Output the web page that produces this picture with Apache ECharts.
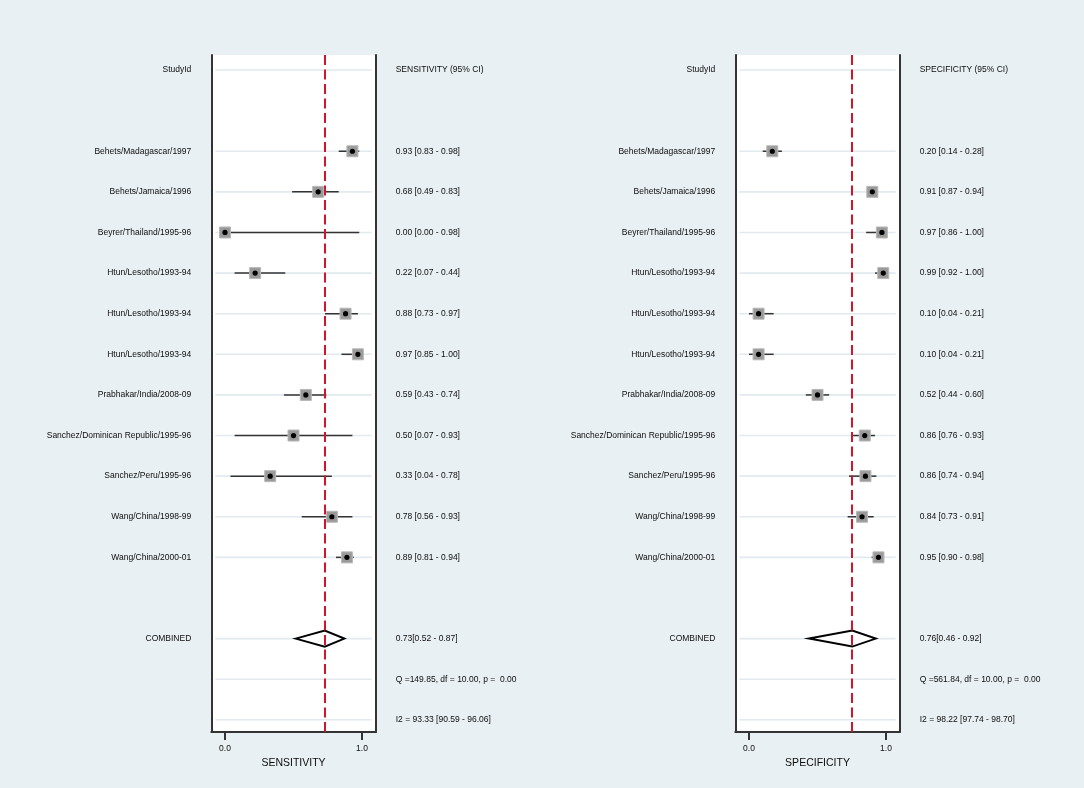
<!DOCTYPE html>
<html><head><meta charset="utf-8">
<script src="https://cdn.jsdelivr.net/npm/echarts@6/dist/echarts.min.js"></script>
<style>html,body{margin:0;padding:0;background:#e9f0f3}#c{width:1084px;height:788px}</style>
</head><body><div id="c"></div>
<script>
// ---------- DATA ----------
const studies = [
  "Behets/Madagascar/1997", "Behets/Jamaica/1996", "Beyrer/Thailand/1995-96",
  "Htun/Lesotho/1993-94", "Htun/Lesotho/1993-94", "Htun/Lesotho/1993-94",
  "Prabhakar/India/2008-09", "Sanchez/Dominican Republic/1995-96",
  "Sanchez/Peru/1995-96", "Wang/China/1998-99", "Wang/China/2000-01"
];
const studyHeader = "StudyId";
const combinedLabel = "COMBINED";

// Sensitivity (plotted estimate, lower, upper)
const sensEst = [0.93, 0.68, 0.00, 0.22, 0.88, 0.97, 0.59, 0.50, 0.33, 0.78, 0.89];
const sensLo  = [0.83, 0.49, 0.00, 0.07, 0.73, 0.85, 0.43, 0.07, 0.04, 0.56, 0.81];
const sensHi  = [0.98, 0.83, 0.98, 0.44, 0.97, 1.00, 0.74, 0.93, 0.78, 0.93, 0.94];
const sensText = [
  "0.93 [0.83 - 0.98]", "0.68 [0.49 - 0.83]", "0.00 [0.00 - 0.98]", "0.22 [0.07 - 0.44]",
  "0.88 [0.73 - 0.97]", "0.97 [0.85 - 1.00]", "0.59 [0.43 - 0.74]", "0.50 [0.07 - 0.93]",
  "0.33 [0.04 - 0.78]", "0.78 [0.56 - 0.93]", "0.89 [0.81 - 0.94]"
];
const sensSummary = [0.516, 0.871, 0.728]; // lower, upper, estimate
const sensHeader = "SENSITIVITY (95% CI)";
const sensSummaryText = "0.73[0.52 - 0.87]";
const sensQText = "Q =149.85, df = 10.00, p =  0.00";
const sensI2Text = "I2 = 93.33 [90.59 - 96.06]";
const sensAxisTitle = "SENSITIVITY";

// Specificity (plotted estimate, lower, upper)
const specEst = [0.17, 0.90, 0.97, 0.98, 0.07, 0.07, 0.50, 0.845, 0.85, 0.825, 0.945];
const specLo  = [0.10, 0.87, 0.855, 0.92, 0.00, 0.00, 0.415, 0.75, 0.73, 0.72, 0.895];
const specHi  = [0.24, 0.93, 1.00, 1.00, 0.18, 0.18, 0.585, 0.92, 0.93, 0.91, 0.98];
const specText = [
  "0.20 [0.14 - 0.28]", "0.91 [0.87 - 0.94]", "0.97 [0.86 - 1.00]", "0.99 [0.92 - 1.00]",
  "0.10 [0.04 - 0.21]", "0.10 [0.04 - 0.21]", "0.52 [0.44 - 0.60]", "0.86 [0.76 - 0.93]",
  "0.86 [0.74 - 0.94]", "0.84 [0.73 - 0.91]", "0.95 [0.90 - 0.98]"
];
const specSummary = [0.438, 0.925, 0.754];
const specHeader = "SPECIFICITY (95% CI)";
const specSummaryText = "0.76[0.46 - 0.92]";
const specQText = "Q =561.84, df = 10.00, p =  0.00";
const specI2Text = "I2 = 98.22 [97.74 - 98.70]";
const specAxisTitle = "SPECIFICITY";

const xTicks = [0, 1];

// ---------- LAYOUT ----------
const headerRow = 0, firstStudyRow = 2, combinedRow = 14, qRow = 15, i2Row = 16;
const studyRows = studies.map((_, i) => i + firstStudyRow);
const gridRows = [headerRow, ...studyRows, combinedRow, qRow, i2Row];
const TXT = '#0d0d0d';
const FONT = '"Liberation Sans", Arial, Helvetica, sans-serif';
const BOX = '#333';
const RED = '#d2152b';

function leftMap() {
  const m = {}; m[headerRow] = studyHeader;
  studies.forEach((s, i) => m[studyRows[i]] = s);
  m[combinedRow] = combinedLabel; return m;
}
function rightMap(header, texts, summ, q, i2) {
  const m = {}; m[headerRow] = header;
  texts.forEach((s, i) => m[studyRows[i]] = s);
  m[combinedRow] = summ; m[qRow] = q; m[i2Row] = i2; return m;
}

const panels = [
  { left: 211.3, est: sensEst, lo: sensLo, hi: sensHi, summary: sensSummary, title: sensAxisTitle,
    rmap: rightMap(sensHeader, sensText, sensSummaryText, sensQText, sensI2Text) },
  { left: 735.3, est: specEst, lo: specLo, hi: specHi, summary: specSummary, title: specAxisTitle,
    rmap: rightMap(specHeader, specText, specSummaryText, specQText, specI2Text) }
];
const lmap = leftMap();
const Y_MIN = -0.37, Y_MAX = 16.3;

const grid = [], xAxis = [], yAxis = [], series = [];
panels.forEach((p, i) => {
  grid.push({ left: p.left, top: 55, width: 164.4, height: 677, show: true,
    backgroundColor: '#ffffff', borderWidth: 0, containLabel: false, outerBoundsMode: 'none' });
  xAxis.push({
    gridIndex: i, type: 'value', min: -0.1, max: 1.1,
    axisLine: { show: true, onZero: false, lineStyle: { color: BOX, width: 2 } },
    axisTick: { show: true, customValues: xTicks, length: 8, lineStyle: { color: BOX, width: 2 } },
    axisLabel: { customValues: xTicks, formatter: v => Number(v).toFixed(1), fontSize: 8.5,
      color: TXT, fontFamily: FONT, margin: 12 },
    splitLine: { show: false },
    name: p.title, nameLocation: 'middle', nameGap: 25,
    nameTextStyle: { fontSize: 10.5, color: TXT, fontFamily: FONT }
  });
  const yBase = { gridIndex: i, type: 'value', inverse: true, min: Y_MIN, max: Y_MAX,
    axisTick: { show: false }, splitLine: { show: false },
    axisLine: { show: true, onZero: false, lineStyle: { color: BOX, width: 2 } } };
  yAxis.push(Object.assign({}, yBase, { position: 'left',
    axisLabel: { customValues: [headerRow, ...studyRows, combinedRow],
      formatter: v => lmap[Math.round(v)] || '', fontSize: 8.5, color: TXT, fontFamily: FONT, margin: 20 } }));
  yAxis.push(Object.assign({}, yBase, { position: 'right',
    axisLabel: { customValues: gridRows,
      formatter: v => p.rmap[Math.round(v)] || '', fontSize: 8.5, color: TXT, fontFamily: FONT, margin: 20, align: 'left' } }));
  const yIdx = i * 2;

  // light horizontal row lines
  series.push({
    type: 'custom', xAxisIndex: i, yAxisIndex: yIdx, silent: true, z: 1,
    data: gridRows.map(r => [0, r]), encode: { x: 0, y: 1 },
    renderItem: (params, api) => {
      const cs = params.coordSys;
      const y = api.coord([0, api.value(1)])[1];
      return { type: 'line', shape: { x1: cs.x + 4, y1: y, x2: cs.x + cs.width - 4, y2: y },
        style: { stroke: '#e1eaee', lineWidth: 1.6 } };
    }
  });

  // combined diamond + reference line
  series.push({
    type: 'custom', xAxisIndex: i, yAxisIndex: yIdx, silent: true, z: 3,
    data: [[p.summary[0], p.summary[1], p.summary[2], combinedRow]], encode: { x: [0, 1, 2], y: 3 },
    renderItem: (params, api) => {
      const r = api.value(3);
      const a = api.coord([api.value(0), r]), b = api.coord([api.value(1), r]), c = api.coord([api.value(2), r]);
      return { type: 'polygon', shape: { points: [a, [c[0], c[1] - 8], b, [c[0], c[1] + 8]] },
        style: { fill: '#ffffff', stroke: '#000', lineWidth: 2 } };
    },
    markLine: { silent: true, symbol: ['none', 'none'], label: { show: false }, animation: false,
      lineStyle: { color: RED, type: [10, 4.5], width: 2 },
      data: [{ xAxis: p.summary[2] }] }
  });

  // study CIs + squares + dots
  series.push({
    type: 'custom', xAxisIndex: i, yAxisIndex: yIdx, silent: true, z: 4,
    data: p.est.map((e, k) => [p.lo[k], p.hi[k], e, studyRows[k]]), encode: { x: [0, 1, 2], y: 3 },
    renderItem: (params, api) => {
      const r = api.value(3);
      const a = api.coord([api.value(0), r]), b = api.coord([api.value(1), r]), c = api.coord([api.value(2), r]);
      const s = 11;
      return { type: 'group', children: [
        { type: 'line', shape: { x1: a[0], y1: a[1], x2: b[0], y2: b[1] }, style: { stroke: '#333', lineWidth: 1.5 } },
        { type: 'rect', shape: { x: c[0] - s / 2, y: c[1] - s / 2, width: s, height: s },
          style: { fill: '#9a9a9a', stroke: '#b8b8b8', lineWidth: 1 } },
        { type: 'circle', shape: { cx: c[0], cy: c[1], r: 2.6 }, style: { fill: '#000' } }
      ] };
    }
  });
});

const chart = echarts.init(document.getElementById('c'));
chart.setOption({
  backgroundColor: '#e9f0f3', animation: false,
  textStyle: { fontFamily: FONT },
  grid, xAxis, yAxis, series
});
</script></body></html>
